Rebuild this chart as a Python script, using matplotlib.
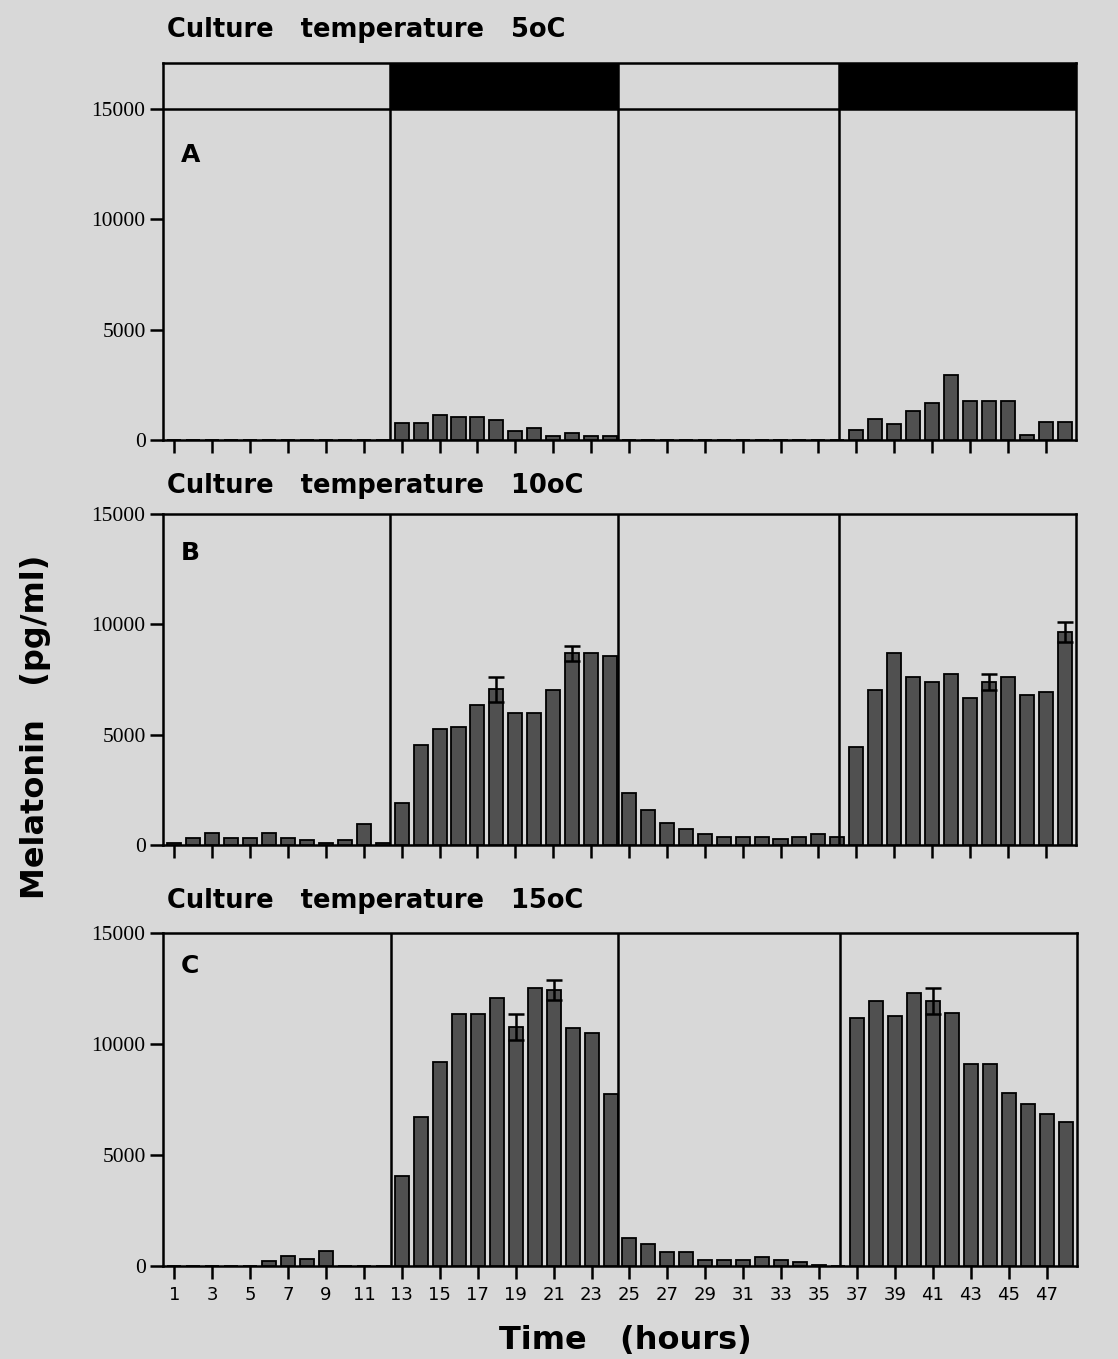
import matplotlib
matplotlib.use("Agg")
import matplotlib.pyplot as plt
import numpy as np

# ---------------- data ----------------
hours = list(range(1, 49))

melatonin_5C = [0, 0, 0, 0, 0, 0, 0, 0, 0, 0, 0, 0,
                770, 770, 1145, 1020, 1020, 905, 420, 525, 165, 315, 165, 165,
                0, 0, 0, 0, 0, 0, 0, 0, 0, 0, 0, 0,
                470, 950, 725, 1295, 1655, 2955, 1780, 1780, 1780, 240, 815, 815]

melatonin_10C = [75, 300, 530, 300, 315, 560, 330, 210, 105, 210, 935, 105,
                 1890, 4530, 5240, 5360, 6330, 7055, 5995, 5995, 7020, 8685, 8685, 8560,
                 2360, 1585, 980, 725, 500, 375, 375, 375, 260, 375, 500, 375,
                 4425, 7020, 8710, 7625, 7385, 7745, 6670, 7385, 7625, 6795, 6915, 9660]

melatonin_15C = [0, 0, 0, 0, 0, 230, 455, 330, 680, 0, 0, 0,
                 4060, 6700, 9200, 11360, 11360, 12080, 10760, 12530, 12420, 10730, 10500, 7770,
                 1275, 970, 620, 620, 290, 290, 290, 410, 290, 180, 40, 0,
                 11150, 11950, 11240, 12300, 11950, 11380, 9080, 9080, 7790, 7300, 6830, 6470]

err_hours_10C = [18, 22, 44, 48]
err_vals_10C = [570, 330, 360, 455]
err_hours_15C = [19, 21, 41]
err_vals_15C = [600, 460, 580]

panel_titles = ["Culture   temperature   5oC",
                "Culture   temperature   10oC",
                "Culture   temperature   15oC"]
panel_letters = ["A", "B", "C"]
xtick_hours = list(range(1, 48, 2))
ytick_vals = [0, 5000, 10000, 15000]
dark_periods = [(12.4, 24.4), (36.1, 48.6)]
period_lines = [12.4, 24.4, 36.1]

# ---------------- style ----------------
BG = "#d8d8d8"
BAR = "#505050"
W = 1118.0
H = 1359.0

fig = plt.figure(figsize=(11.18, 13.59), dpi=100, facecolor=BG)


def frac_rect(left, top, right, bottom):
    return [left / W, 1 - bottom / H, (right - left) / W, (bottom - top) / H]


rects = [frac_rect(163, 63, 1076, 440),
         frac_rect(163, 514, 1076, 845),
         frac_rect(163, 933, 1077, 1266)]
ytops = [17085, 15000, 15000]
datasets = [melatonin_5C, melatonin_10C, melatonin_15C]
errs = [None, (err_hours_10C, err_vals_10C), (err_hours_15C, err_vals_15C)]
title_y = [30, 486, 901]
letter_y = [155, 553, 966]

XLIM = (0.4, 48.6)

for i in range(3):
    ax = fig.add_axes(rects[i])
    ax.set_facecolor(BG)
    ax.set_xlim(*XLIM)
    ax.set_ylim(0, ytops[i])
    ax.bar(hours, datasets[i], width=0.74, color=BAR, edgecolor="black",
           linewidth=1.3, zorder=3)
    if errs[i] is not None:
        eh, ev = errs[i]
        vals = [datasets[i][h - 1] for h in eh]
        ax.errorbar(eh, vals, yerr=ev, fmt="none", ecolor="black",
                    elinewidth=1.8, capsize=6, capthick=1.8, zorder=4)
    for xl in period_lines:
        ax.axvline(xl, color="black", lw=1.8, zorder=5)
    if i == 0:
        ax.axhline(15000, color="black", lw=1.8, zorder=5)
        for (a, b) in dark_periods:
            ax.axvspan(a, b, ymin=15000 / ytops[0], ymax=1, color="black",
                       zorder=4, lw=0)
    for sp in ax.spines.values():
        sp.set_linewidth(1.8)
        sp.set_color("black")
    ax.set_xticks(xtick_hours)
    ax.set_yticks(ytick_vals)
    ax.set_yticklabels([str(v) for v in ytick_vals],
                       fontfamily="Liberation Serif", fontsize=15.5)
    ax.tick_params(axis="y", direction="out", length=9.5, width=1.8, pad=3)
    ax.tick_params(axis="x", direction="out", length=9.5, width=1.8, pad=5)
    if i < 2:
        ax.tick_params(axis="x", labelbottom=False)
    else:
        ax.set_xticklabels([str(h) for h in xtick_hours],
                           fontfamily="DejaVu Sans", fontsize=13)

    fig.text(167 / W, 1 - title_y[i] / H, panel_titles[i], ha="left", va="center",
             fontfamily="DejaVu Sans", fontweight="bold", fontsize=18.5)
    fig.text(181 / W, 1 - letter_y[i] / H, panel_letters[i], ha="left", va="center",
             fontfamily="DejaVu Sans", fontweight="bold", fontsize=18)

fig.text(625 / W, 1 - 1340 / H, "Time   (hours)", ha="center", va="center",
         fontfamily="DejaVu Sans", fontweight="bold", fontsize=23)
fig.text(36 / W, 1 - 727 / H, "Melatonin   (pg/ml)", ha="center", va="center",
         rotation=90, fontfamily="DejaVu Sans", fontweight="bold", fontsize=23)

fig.savefig("out.png", dpi=100, facecolor=BG)
